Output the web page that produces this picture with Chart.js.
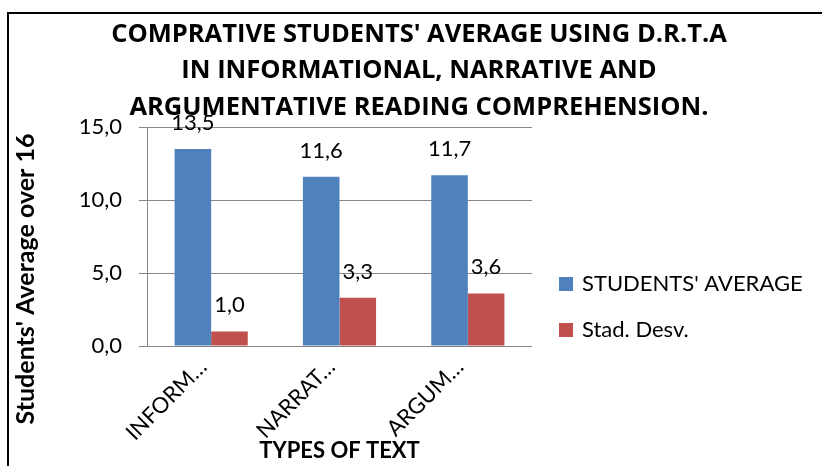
<!DOCTYPE html>
<html>
<head>
<meta charset="utf-8">
<script src="https://cdn.jsdelivr.net/npm/chart.js@4.4.1/dist/chart.umd.min.js"></script>
<style>
  html, body { margin: 0; padding: 0; background: #fff; overflow: hidden; }
  #frame { position: absolute; left: 7px; top: 12px; width: 820px; height: 460px; border: 2px solid #000; }
  canvas { display: block; }
</style>
</head>
<body>
<div id="frame"><canvas id="chart" width="820" height="460"></canvas></div>
<script>
// Types of text on the x axis (labels already shortened the way they are shown)
const textTypes = ['INFORM…', 'NARRAT…', 'ARGUM…'];
// Series values
const studentsAverage = [13.5, 11.6, 11.7];
const standardDeviation = [1.0, 3.3, 3.6];
const seriesNames = ["STUDENTS' AVERAGE", 'Stad. Desv.'];
const seriesColors = ['#4F81BD', '#C0504D'];
// Value axis
const yMin = 0, yMax = 15, yStep = 5;

const titleLines = [
  "COMPRATIVE STUDENTS' AVERAGE USING D.R.T.A",
  'IN INFORMATIONAL, NARRATIVE AND',
  'ARGUMENTATIVE READING COMPREHENSION.'
];
const yTitle = "Students' Average over 16";
const xTitle = 'TYPES OF TEXT';

const FONT = 'Lato, "Open Sans", sans-serif';
const TITLE_FONT = '"Open Sans", Lato, sans-serif';
const fmt = v => v.toFixed(1).replace('.', ',');

// chart title, centred on the whole canvas (the legend space sits on the right)
const wideTitle = {
  id: 'wideTitle',
  afterDraw(chart) {
    const ctx = chart.ctx;
    ctx.save();
    ctx.font = 'bold 25.5px ' + TITLE_FONT;
    ctx.fillStyle = '#000';
    ctx.textAlign = 'center';
    ctx.textBaseline = 'middle';
    titleLines.forEach((line, i) => {
      ctx.fillText(line, chart.width / 2, 20.5 + i * 36.5);
    });
    ctx.restore();
  }
};

// numbers above each bar
const valueLabels = {
  id: 'valueLabels',
  afterDatasetsDraw(chart) {
    const ctx = chart.ctx;
    ctx.save();
    ctx.font = '22px ' + FONT;
    ctx.fillStyle = '#000';
    ctx.textAlign = 'center';
    ctx.textBaseline = 'alphabetic';
    chart.data.datasets.forEach((ds, i) => {
      chart.getDatasetMeta(i).data.forEach((bar, j) => {
        ctx.fillText(fmt(ds.data[j]), bar.x, bar.y - 19);
      });
    });
    ctx.restore();
  }
};

// legend to the right of the plot
const sideLegend = {
  id: 'sideLegend',
  afterDraw(chart) {
    const ctx = chart.ctx;
    const area = chart.chartArea;
    ctx.save();
    ctx.font = '22px ' + FONT;
    ctx.textBaseline = 'middle';
    ctx.textAlign = 'left';
    chart.data.datasets.forEach((ds, i) => {
      const cy = area.top + 157 + i * 46;
      const bx = area.right + 27;
      ctx.fillStyle = ds.backgroundColor;
      ctx.fillRect(bx, cy - 7, 14, 14);
      ctx.fillStyle = '#000';
      ctx.fillText(ds.label, bx + 23, cy);
    });
    ctx.restore();
  }
};

// rotated value-axis title
const yAxisTitle = {
  id: 'yAxisTitle',
  afterDraw(chart) {
    const ctx = chart.ctx;
    const area = chart.chartArea;
    ctx.save();
    ctx.translate(chart.scales.y.left + 17, area.top + 152);
    ctx.rotate(-Math.PI / 2);
    ctx.font = 'bold 25px ' + FONT;
    ctx.fillStyle = '#000';
    ctx.textAlign = 'center';
    ctx.textBaseline = 'middle';
    ctx.fillText(yTitle, 0, 0);
    ctx.restore();
  }
};

new Chart(document.getElementById('chart'), {
  type: 'bar',
  data: {
    labels: textTypes,
    datasets: [
      { label: seriesNames[0], data: studentsAverage, backgroundColor: seriesColors[0] },
      { label: seriesNames[1], data: standardDeviation, backgroundColor: seriesColors[1] }
    ]
  },
  options: {
    responsive: false,
    animation: false,
    devicePixelRatio: 1,
    layout: { padding: { top: 113, right: 297 } },
    datasets: { bar: { categoryPercentage: 0.57, barPercentage: 1.0, borderWidth: 0 } },
    plugins: {
      legend: { display: false },
      tooltip: { enabled: false },
      title: { display: false }
    },
    scales: {
      x: {
        grid: { display: false },
        border: { display: false },
        ticks: {
          color: '#000', font: { family: FONT, size: 22 },
          minRotation: 45, maxRotation: 45, autoSkip: false,
          padding: 0, labelOffset: -8
        },
        title: {
          display: true, text: xTitle, color: '#000',
          font: { family: FONT, size: 22, weight: 'bold' },
          padding: { top: 0, bottom: 10 }
        },
        afterFit(scale) { scale.height = 128; }
      },
      y: {
        min: yMin, max: yMax,
        grid: { color: '#878787', tickLength: 8, drawTicks: true },
        border: { display: true, color: '#878787' },
        ticks: {
          stepSize: yStep, color: '#000', padding: 17,
          font: { family: FONT, size: 22 },
          callback: v => fmt(v)
        },
        afterFit(scale) { scale.width = 138; }
      }
    }
  },
  plugins: [wideTitle, valueLabels, sideLegend, yAxisTitle]
});
</script>
</body>
</html>
